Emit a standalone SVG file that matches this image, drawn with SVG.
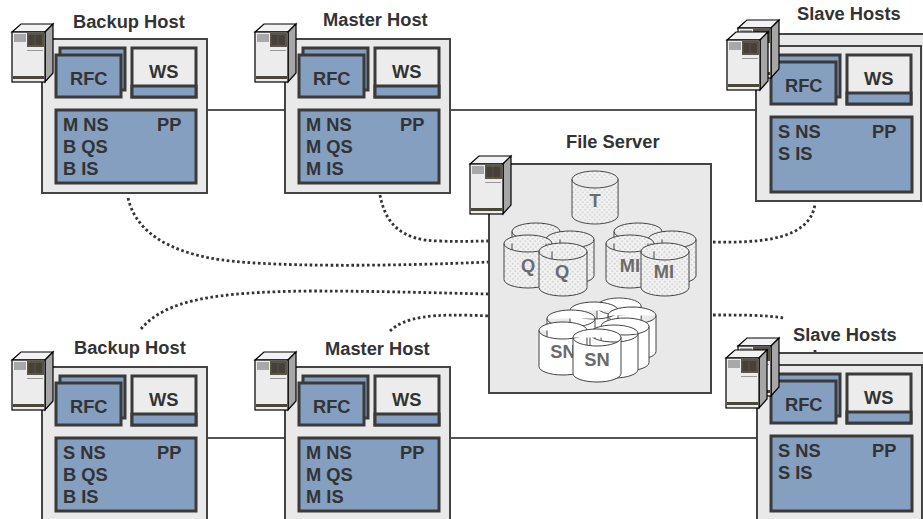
<svg xmlns="http://www.w3.org/2000/svg" xmlns:xlink="http://www.w3.org/1999/xlink" width="923" height="519" viewBox="0 0 923 519">
<style>
text{font-family:"Liberation Sans",Arial,sans-serif;font-weight:bold;fill:#333;font-size:18.300px}
.g{fill:#6b6b6b;text-anchor:middle}
.o{fill:#e9e9e9;stroke:#444;stroke-width:2}
.b{fill:#859fc1;stroke:#3a3a3a;stroke-width:3}
.w{fill:#ececec;stroke:#3a3a3a;stroke-width:3}
.l{stroke:#555;stroke-width:2;fill:none}
.d{stroke:#333;stroke-width:2.800;stroke-dasharray:2.600 2.600;fill:none}
</style>
<defs>
<pattern id="dots" width="5" height="5" patternUnits="userSpaceOnUse">
<rect width="5" height="5" fill="#f2f2f2"/><circle cx="1.250" cy="1.250" r="1.100" fill="#d6d6d6"/><circle cx="3.750" cy="3.750" r="1.100" fill="#d6d6d6"/>
</pattern>
<g id="srv">
<path d="M0 8 L9 0 H41 L33 8Z" fill="#f2f2f2" stroke="#000" stroke-width="1.200"/>
<path d="M33 8 L41 0 V49 L33 58Z" fill="#a6a6a6" stroke="#000" stroke-width="1.200"/>
<rect x="0" y="8" width="33" height="50" fill="#ececec" stroke="#000" stroke-width="1.200"/>
<rect x="2" y="10" width="12" height="8" fill="#a8a8a8"/>
<rect x="15" y="9" width="17" height="14" fill="#5a5545"/>
<rect x="16.500" y="11" width="6" height="10" fill="#45413a"/>
<rect x="23.500" y="11" width="6.500" height="10" fill="#45413a"/>
<rect x="15" y="26" width="16" height="1" fill="#999"/>
<rect x="1" y="52" width="31" height="3" fill="#4a4639"/>
</g>
<g id="box">
<rect class="b" x="60" y="48" width="65" height="42"/>
<rect class="b" x="56" y="55" width="65" height="42"/>
<rect class="w" x="132" y="48" width="64" height="49"/>
<rect class="b" x="132" y="86" width="64" height="11"/>
</g>
<path id="cyl" d="M0 8.500 A24 8.500 0 0 1 48 8.500 V44.500 A24 8.500 0 0 1 0 44.500Z M0 8.500 A24 8.500 0 0 0 48 8.500"/>
</defs>

<g id="connectors">
<path class="l" d="M207 110H285M450 110H756M207 438H285M450 438H757"/>
<path class="d" d="M128 198C136 232 168 250 210 258C260 268 400 266 489 262"/>
<path class="d" d="M380 195C385 222 400 241 440 241C460 242 475 241 489 241"/>
<path class="d" d="M713 242C760 243 810 240 815 204"/>
<path class="d" d="M141 329C165 300 215 292 310 291C380 291 440 293 489 294"/>
<path class="d" d="M390 331C405 317 430 313 489 316"/>
<path class="d" d="M713 315C745 315 765 315 784 318"/>
<path class="d" d="M815 350V353"/>
</g>

<g id="file-server">
<rect class="o" x="489" y="164" width="222" height="229"/>
<g fill="url(#dots)" stroke="#444" stroke-width="1">
<use xlink:href="#cyl" transform="translate(572 171) scale(.96 1)"/>
<use xlink:href="#cyl" transform="translate(512 223)"/>
<use xlink:href="#cyl" transform="translate(546 231)"/>
<use xlink:href="#cyl" transform="translate(504 235)"/>
<use xlink:href="#cyl" transform="translate(614 223)"/>
<use xlink:href="#cyl" transform="translate(648 231)"/>
<use xlink:href="#cyl" transform="translate(606 235)"/>
</g>
<text class="g" x="595" y="207">T</text>
<text class="g" x="528" y="272">Q</text>
<text class="g" x="630" y="272">MI</text>
<g fill="url(#dots)" stroke="#444" stroke-width="1">
<use xlink:href="#cyl" transform="translate(539 243)"/>
<use xlink:href="#cyl" transform="translate(641 243)"/>
</g>
<text class="g" x="562" y="278">Q</text>
<text class="g" x="664" y="278">MI</text>
<g fill="#fff" stroke="#444" stroke-width="1">
<use xlink:href="#cyl" transform="translate(597 298) scale(.92 1)"/>
<use xlink:href="#cyl" transform="translate(570 302)"/>
<use xlink:href="#cyl" transform="translate(608 307)"/>
<use xlink:href="#cyl" transform="translate(547 310)"/>
<use xlink:href="#cyl" transform="translate(601 318)"/>
<use xlink:href="#cyl" transform="translate(539 322)"/>
</g>
<text class="g" x="563" y="358">SN</text>
<g fill="#fff" stroke="#444" stroke-width="1">
<use xlink:href="#cyl" transform="translate(590 325)"/>
<use xlink:href="#cyl" transform="translate(573 329)"/>
</g>
<text class="g" x="597" y="366">SN</text>
<use xlink:href="#srv" x="470" y="156"/>
<text x="566" y="148">File Server</text>
</g>

<g id="backup-top">
<rect class="o" x="42" y="39" width="165" height="154"/>
<use xlink:href="#box"/>
<rect class="b" x="56" y="110" width="140" height="73"/>
<text x="70" y="85">RFC</text><text x="149" y="78">WS</text>
<text x="157" y="131">PP</text><text x="63" y="131">M NS</text><text x="63" y="153">B QS</text><text x="63" y="175">B IS</text>
<use xlink:href="#srv" x="12" y="24"/>
<text x="73" y="28">Backup Host</text>
</g>

<g id="master-top" transform="translate(243 0)">
<rect class="o" x="42" y="39" width="165" height="154"/>
<use xlink:href="#box"/>
<rect class="b" x="56" y="110" width="140" height="73"/>
<text x="70" y="85">RFC</text><text x="149" y="78">WS</text>
<text x="157" y="131">PP</text><text x="63" y="131">M NS</text><text x="63" y="153">M QS</text><text x="63" y="175">M IS</text>
<use xlink:href="#srv" x="12" y="24"/>
<text x="80" y="26">Master Host</text>
</g>

<g id="slave-top">
<path class="o" d="M768 80V34H930V80"/>
<rect class="o" x="756" y="46" width="165" height="155"/>
<g transform="translate(715 7)"><use xlink:href="#box"/>
<rect class="b" x="56" y="110" width="141" height="75"/>
<text x="70" y="85">RFC</text><text x="149" y="78">WS</text>
<text x="157" y="131">PP</text><text x="63" y="131">S NS</text><text x="63" y="153">S IS</text></g>
<use xlink:href="#srv" x="738" y="20"/>
<use xlink:href="#srv" x="727" y="32"/>
<text x="797" y="20">Slave Hosts</text>
</g>

<g id="backup-bottom" transform="translate(0 328)">
<rect class="o" x="42" y="39" width="165" height="154"/>
<use xlink:href="#box"/>
<rect class="b" x="56" y="110" width="140" height="73"/>
<text x="70" y="85">RFC</text><text x="149" y="78">WS</text>
<text x="157" y="131">PP</text><text x="63" y="131">S NS</text><text x="63" y="153">B QS</text><text x="63" y="175">B IS</text>
<use xlink:href="#srv" x="12" y="24"/>
<text x="74" y="26">Backup Host</text>
</g>

<g id="master-bottom" transform="translate(243 328)">
<rect class="o" x="42" y="39" width="165" height="154"/>
<use xlink:href="#box"/>
<rect class="b" x="56" y="110" width="140" height="73"/>
<text x="70" y="85">RFC</text><text x="149" y="78">WS</text>
<text x="157" y="131">PP</text><text x="63" y="131">M NS</text><text x="63" y="153">M QS</text><text x="63" y="175">M IS</text>
<use xlink:href="#srv" x="12" y="24"/>
<text x="82" y="27">Master Host</text>
</g>

<g id="slave-bottom" transform="translate(0 319)">
<path class="o" d="M768 80V34H930V80"/>
<rect class="o" x="757" y="46" width="165" height="155"/>
<g transform="translate(715 7)"><use xlink:href="#box"/>
<rect class="b" x="56" y="110" width="141" height="75"/>
<text x="70" y="85">RFC</text><text x="149" y="78">WS</text>
<text x="157" y="131">PP</text><text x="63" y="131">S NS</text><text x="63" y="153">S IS</text></g>
<use xlink:href="#srv" x="738" y="19"/>
<use xlink:href="#srv" x="726" y="31"/>
<text x="793" y="22">Slave Hosts</text>
</g>
</svg>
